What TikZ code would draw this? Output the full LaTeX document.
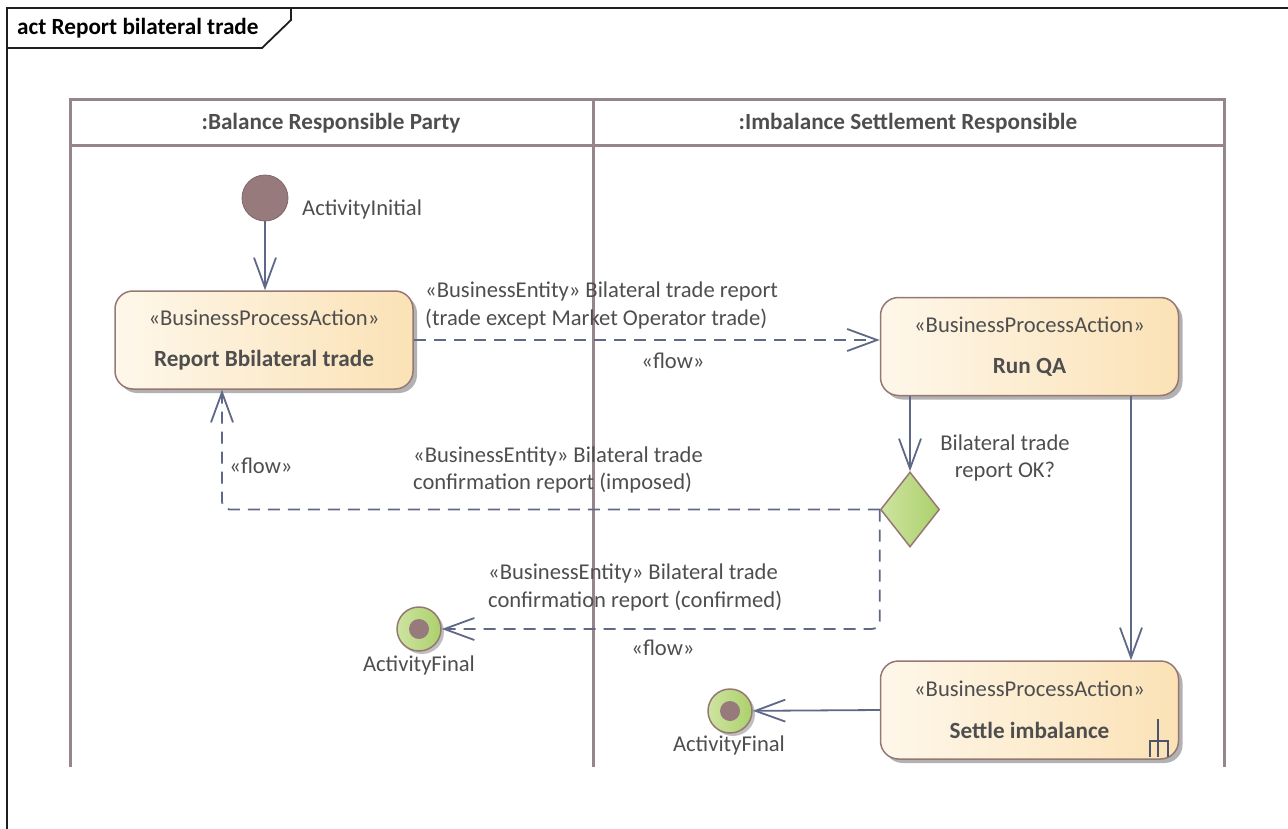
\documentclass[tikz,border=0pt]{standalone}
\usepackage{fontspec}
\setmainfont{Carlito}
\usetikzlibrary{arrows.meta,shapes.geometric,shadows,calc}
\definecolor{laneline}{RGB}{150,134,138}
\definecolor{conn}{RGB}{95,105,135}
\definecolor{boxborder}{RGB}{150,120,115}
\definecolor{boxL}{RGB}{254,247,234}
\definecolor{boxR}{RGB}{251,226,182}
\definecolor{initc}{RGB}{150,122,124}
\definecolor{greenL}{RGB}{205,228,160}
\definecolor{greenR}{RGB}{172,208,108}
\definecolor{txt}{RGB}{78,78,78}
\definecolor{frame}{RGB}{30,30,30}
\newcommand{\regfont}{\fontsize{22.6}{27.5}\selectfont}
\newcommand{\boldfont}{\fontsize{23.2}{27.5}\selectfont\bfseries}
\tikzset{
  base/.style={font=\regfont, text=txt},
  lbl/.style={base, inner sep=0pt},
  actbox/.style={base, rectangle, rounded corners=18pt, minimum width=298pt, minimum height=98pt,
     draw=boxborder, line width=1.5pt, left color=boxL, right color=boxR, align=center,
     drop shadow={shadow xshift=4pt, shadow yshift=-4pt, opacity=0.3, fill=black}},
  initnode/.style={circle, fill=initc, draw=initc!85!black, line width=0.8pt, minimum size=46pt, inner sep=0pt},
  finalnode/.style={circle, left color=greenL, right color=greenR, draw=boxborder, line width=1.5pt,
     minimum size=44pt, inner sep=0pt,
     drop shadow={shadow xshift=3pt, shadow yshift=-3pt, opacity=0.25, fill=black}},
  decision/.style={diamond, minimum width=59pt, minimum height=75pt, inner sep=0pt, aspect=0.79,
     left color=greenL, right color=greenR, draw=boxborder, line width=1.5pt},
  flow/.style={draw=conn, line width=1.8pt, -{Straight Barb[length=30pt,width=22pt,line width=1.8pt]}},
  dflow/.style={flow, dash pattern=on 12pt off 8pt},
  lane/.style={draw=laneline, line width=3pt},
}
\begin{document}
\begin{tikzpicture}[x=1pt,y=-1pt]
\useasboundingbox (0,0) rectangle (1288,829);
% outer frame
\draw[frame, line width=1.8pt] (1290,8) -- (7,8) -- (7,831);
\draw[frame, line width=1.8pt] (7,48) -- (262,48) -- (291,20) -- (291,8);
\node[lbl, anchor=west, font=\boldfont, text=black] (title) at (17,28) {act Report bilateral trade};
% swimlanes
\draw[lane] (70,767) -- (70,100) -- (1224,100) -- (1224,767);
\draw[lane] (70,146) -- (1224,146);
\draw[lane] (593,100) -- (593,767);
\node[lbl, font=\boldfont] (lane1) at (331,123) {:Balance Responsible Party};
\node[lbl, font=\boldfont] (lane2) at (908,123) {:Imbalance Settlement Responsible};
% nodes
\node[initnode] (init) at (265,198) {};
\node[lbl, anchor=west] (initlbl) at (302,209) {ActivityInitial};
\node[actbox] (rbt) at (264,340) {«BusinessProcessAction»\\[13pt]{\boldfont Report Bbilateral trade}};
\node[actbox] (rqa) at (1029.5,346.5) {«BusinessProcessAction»\\[13pt]{\boldfont Run QA}};
\node[actbox] (settle) at (1029.5,710) {«BusinessProcessAction»\\[15pt]{\boldfont Settle imbalance}};
\node[decision] (dec) at (910,509.5) {};
\node[finalnode] (fin1) at (419,629) {};
\fill[initc] (fin1.center) circle (10pt);
\node[finalnode] (fin2) at (730,711) {};
\fill[initc] (fin2.center) circle (10pt);
\node[lbl] (fin1lbl) at (419,665) {ActivityFinal};
\node[lbl] (fin2lbl) at (729,745) {ActivityFinal};
% rake symbol
\draw[conn!80!black, line width=1.3pt] (1158,719) -- (1158,757) (1150,757) -- (1150,741) -- (1168,741) -- (1168,757);
% connectors
\draw[flow] (init) -- (init |- rbt.north);
\draw[flow] (dec |- rqa.south) -- (dec.north);
\draw[flow] ($(rqa.south)+(101.5,0)$) -- ($(settle.north)+(101.5,0)$);
\draw[flow] (settle.west) -- (fin2);
\draw[dflow] (rbt.east) -- (rqa.west |- rbt.east);
\draw[dflow, rounded corners=8pt] (dec.west) -| ($(rbt.south)+(-42,0)$);
\draw[dflow, rounded corners=8pt] (dec.west) |- (fin1.east);
% labels
\node[lbl, anchor=west, align=left] (l1) at (425,305.5) {«BusinessEntity» Bilateral trade report\\(trade except Market Operator trade)};
\node[lbl] (f1) at (673,361) {«flow»};
\node[lbl] (f2) at (261,466) {«flow»};
\node[lbl, anchor=west, align=left] (l2) at (413,470) {«BusinessEntity» Bilateral trade\\confirmation report (imposed)};
\node[lbl, anchor=west, align=left] (l3) at (488,587.5) {«BusinessEntity» Bilateral trade\\confirmation report (confirmed)};
\node[lbl] (f3) at (663,648) {«flow»};
\node[lbl, align=center] (dlbl) at (1005,458) {Bilateral trade\\report OK?};
\end{tikzpicture}
\end{document}
